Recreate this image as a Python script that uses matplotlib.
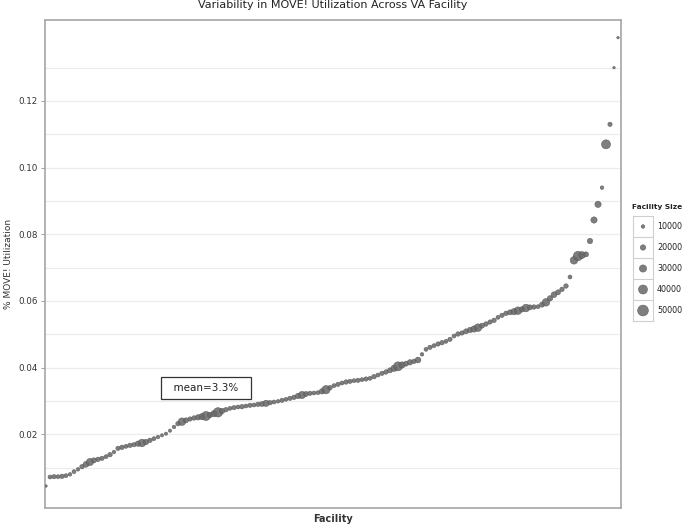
import numpy as np
import matplotlib.pyplot as plt

# MOVE! utilization per facility, sorted
utilization = [
    0.0045, 0.0072, 0.0073, 0.0073, 0.0074, 0.0076, 0.0080, 0.0088, 0.0095, 0.0103,
    0.0110, 0.0117, 0.0122, 0.0125, 0.0128, 0.0133, 0.0139, 0.0147, 0.0158, 0.0161,
    0.0164, 0.0167, 0.0169, 0.0172, 0.0174, 0.0177, 0.0182, 0.0187, 0.0192, 0.0197,
    0.0202, 0.0211, 0.0222, 0.0232, 0.0238, 0.0242, 0.0246, 0.0249, 0.0251, 0.0253,
    0.0255, 0.0258, 0.0262, 0.0266, 0.0270, 0.0274, 0.0278, 0.0280, 0.0282, 0.0283,
    0.0285, 0.0287, 0.0288, 0.0290, 0.0291, 0.0293, 0.0295, 0.0297, 0.0299, 0.0302,
    0.0305, 0.0308, 0.0311, 0.0315, 0.0318, 0.0321, 0.0323, 0.0324, 0.0325, 0.0329,
    0.0334, 0.0340, 0.0346, 0.0350, 0.0354, 0.0357, 0.0359, 0.0361, 0.0362, 0.0364,
    0.0366, 0.0368, 0.0373, 0.0378, 0.0383, 0.0387, 0.0392, 0.0398, 0.0404, 0.0408,
    0.0412, 0.0416, 0.0419, 0.0423, 0.0440, 0.0455, 0.0461, 0.0466, 0.0471, 0.0475,
    0.0479, 0.0485, 0.0495, 0.0501, 0.0504, 0.0509, 0.0513, 0.0516, 0.0520, 0.0526,
    0.0531, 0.0537, 0.0542, 0.0551, 0.0557, 0.0563, 0.0566, 0.0568, 0.0571, 0.0575,
    0.0579, 0.0581, 0.0582, 0.0583, 0.0589, 0.0596, 0.0608, 0.0619, 0.0626, 0.0635,
    0.0645, 0.0672, 0.0722, 0.0735, 0.0738, 0.0740, 0.0780, 0.0843, 0.0890, 0.0940,
    0.1070, 0.1130, 0.1300, 0.1390,
]

# facility size (number of patients)
facility_size = [
    4000, 12000, 14000, 12000, 15000, 12000, 10000, 12000, 10000, 15000,
    22000, 30000, 18000, 15000, 14000, 12000, 15000, 10000, 14000, 15000,
    12000, 15000, 14000, 20000, 32000, 20000, 15000, 12000, 10000, 8000,
    8000, 8000, 10000, 15000, 32000, 18000, 14000, 15000, 20000, 25000,
    40000, 20000, 25000, 42000, 20000, 15000, 12000, 14000, 12000, 15000,
    12000, 14000, 12000, 15000, 18000, 25000, 15000, 12000, 10000, 14000,
    12000, 14000, 15000, 20000, 30000, 18000, 14000, 12000, 12000, 20000,
    36000, 15000, 12000, 14000, 12000, 15000, 14000, 12000, 14000, 12000,
    14000, 12000, 15000, 12000, 14000, 15000, 18000, 25000, 40000, 25000,
    18000, 20000, 15000, 22000, 10000, 12000, 14000, 12000, 14000, 15000,
    12000, 14000, 12000, 15000, 14000, 18000, 20000, 25000, 32000, 18000,
    15000, 14000, 15000, 12000, 14000, 15000, 18000, 25000, 32000, 20000,
    32000, 18000, 15000, 12000, 18000, 32000, 20000, 22000, 18000, 15000,
    15000, 12000, 32000, 42000, 28000, 18000, 20000, 25000, 25000, 10000,
    40000, 14000, 4000, 4000,
]

legend_sizes = [10000, 20000, 30000, 40000, 50000]


def bubble(v):
    # marker area: diameter grows linearly with facility size (px -> pt)
    d_px = 1.8 + np.asarray(v) / 50000 * 9
    return (d_px * 0.72) ** 2


facility = np.arange(len(utilization))
dot_color = "#676767"
frame_color = "#a6a6a6"

fig = plt.figure(figsize=(6.85, 5.3), dpi=100)
ax = fig.add_axes([45 / 685, 22 / 530, 576 / 685, 488 / 530])

ax.scatter(facility, utilization, s=bubble(facility_size), color=dot_color,
           edgecolor="#555555", linewidth=0.4, alpha=0.85, zorder=3)

ax.set_xlim(-0.25, len(utilization) - 0.25)
ax.set_ylim(-0.0021, 0.1443)
ax.set_xticks([])
ax.set_yticks(np.arange(0.02, 0.13, 0.02))
ax.set_yticks(np.arange(0.01, 0.145, 0.02), minor=True)
ax.set_yticklabels([f"{t:.2f}" for t in np.arange(0.02, 0.13, 0.02)])
ax.tick_params(axis="y", which="major", labelsize=6.3, colors="#333333",
               length=3, width=0.8, color=frame_color, pad=2)
ax.tick_params(axis="y", which="minor", length=0)
ax.grid(axis="y", which="both", color="#ececec", linewidth=0.9, zorder=0)
for sp in ax.spines.values():
    sp.set_color(frame_color)
    sp.set_linewidth(1.2)

ax.set_ylabel("% MOVE! Utilization", fontsize=6.5, color="#333333", labelpad=4)
ax.set_xlabel("Facility", fontsize=7, fontweight="bold", color="#333333",
              labelpad=4)
fig.text(0.485, 0.99, "Variability in MOVE! Utilization Across VA Facility",
         ha="center", va="center", fontsize=8, color="#222222")

ax.text(40, 0.0339, "  mean=3.3%  ", ha="center", va="center", fontsize=7.5,
        color="#222222",
        bbox=dict(boxstyle="square,pad=0.6", fc="white", ec="#333333", lw=0.9),
        zorder=4)

# legend drawn as a column of boxed cells
lg = fig.add_axes([633 / 685, 209 / 530, 20 / 685, 105 / 530])
lg.set_xlim(0, 1)
lg.set_ylim(0, len(legend_sizes))
rows = len(legend_sizes) - 0.5 - np.arange(len(legend_sizes))
lg.scatter(np.full(len(legend_sizes), 0.5), rows, s=bubble(legend_sizes),
           color=dot_color, edgecolor="#555555", linewidth=0.4, alpha=0.85)
for b in range(1, len(legend_sizes)):
    lg.axhline(b, color="#cfcfcf", linewidth=0.8)
for y, v in zip(rows, legend_sizes):
    lg.text(1.2, y, str(v), ha="left", va="center", fontsize=5.8,
            color="#222222", clip_on=False)
lg.text(-0.05, len(legend_sizes) + 0.45, "Facility Size", ha="left",
        va="center", fontsize=5.3, fontweight="bold", color="#222222",
        clip_on=False)
lg.set_xticks([])
lg.set_yticks([])
for sp in lg.spines.values():
    sp.set_color("#cfcfcf")
    sp.set_linewidth(0.8)

fig.savefig("out.png", dpi=100)
